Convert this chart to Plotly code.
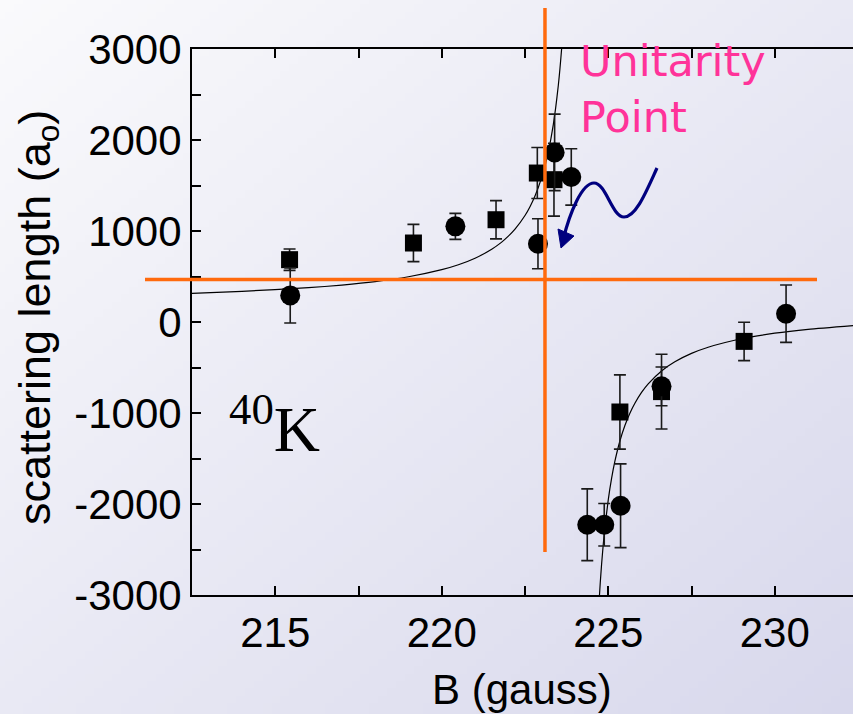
import zlib, struct, base64
import plotly.graph_objects as go

# ---------------- data ----------------
sq_B = [215.43, 219.15, 221.63, 222.87, 223.37, 225.35, 226.60, 229.08]
sq_a = [685, 868, 1124, 1637, 1564, -989, -765, -213]
sq_err = [118, 205, 210, 280, 400, 408, 410, 211]

ci_B = [215.45, 220.41, 222.89, 223.39, 223.89, 224.37, 224.88, 225.37, 226.60, 230.34]
ci_a = [292, 1051, 860, 1864, 1594, -2228, -2228, -2019, -707, 91]
ci_err = [303, 143, 275, 420, 310, 394, 233, 460, 213, 315]

fit_left_B = [212.5, 214, 216, 217, 218, 219, 220, 220.5, 221, 221.5, 221.8, 222, 222.2,
              222.5, 222.65, 222.8, 223.0, 223.1, 223.2, 223.28, 223.35, 223.42, 223.5,
              223.55, 223.6, 223.65]
fit_left_a = [315, 337, 377, 406, 444, 497, 575, 629, 701, 800, 878, 943, 1020,
              1170, 1267, 1384, 1587, 1715, 1870, 2018, 2170, 2350, 2599,
              2785, 3003, 3261]
fit_right_B = [224.72, 224.76, 224.8, 224.85, 224.9, 225.0, 225.1, 225.2, 225.35, 225.5,
               225.65, 225.8, 226.0, 226.2, 226.6, 227.0, 227.5, 228, 229, 230, 231, 232.35]
fit_right_a = [-3099, -2866, -2663, -2445, -2259, -1955, -1719, -1530, -1308, -1138,
               -1002, -893, -774, -680, -538, -437, -345, -277, -184, -123, -80, -39]

unitarity_B = 223.1
unitarity_a = 468

x_ticks = [215, 220, 225, 230]
y_ticks = [-3000, -2000, -1000, 0, 1000, 2000, 3000]

# ---------------- layout geometry ----------------
W, H = 853, 714
ML, MR, MT, MB = 192, 0, 49, 119
PW, PH = W - ML - MR, H - MT - MB


def px(x, y):
    """pixel position -> paper coordinates (for decorations only)"""
    return (x - ML) / PW, (H - MB - y) / PH


def gradient_png(w, h, c0, c1):
    rows = []
    for j in range(h):
        row = bytearray([0])
        for i in range(w):
            t = (i / (w - 1) + j / (h - 1)) / 2
            row += bytes(int(round(c0[k] + (c1[k] - c0[k]) * t)) for k in range(3))
        rows.append(bytes(row))
    raw = b"".join(rows)

    def chunk(tag, data):
        c = struct.pack(">I", len(data)) + tag + data
        return c + struct.pack(">I", zlib.crc32(tag + data) & 0xFFFFFFFF)

    png = (b"\x89PNG\r\n\x1a\n"
           + chunk(b"IHDR", struct.pack(">IIBBBBB", w, h, 8, 2, 0, 0, 0))
           + chunk(b"IDAT", zlib.compress(raw))
           + chunk(b"IEND", b""))
    return "data:image/png;base64," + base64.b64encode(png).decode()


bg = gradient_png(96, 96, (250, 250, 252), (216, 216, 236))

fig = go.Figure()

fig.add_trace(go.Scatter(x=fit_left_B, y=fit_left_a, mode="lines",
                         line=dict(color="black", width=1.2, shape="spline", smoothing=0.6),
                         hoverinfo="skip", showlegend=False))
fig.add_trace(go.Scatter(x=fit_right_B, y=fit_right_a, mode="lines",
                         line=dict(color="black", width=1.2, shape="spline", smoothing=0.6),
                         hoverinfo="skip", showlegend=False))

err_style = dict(type="data", visible=True, color="#1a1a1a", thickness=1.6, width=6)
fig.add_trace(go.Scatter(x=sq_B, y=sq_a, mode="markers",
                         marker=dict(symbol="square", size=17, color="black"),
                         error_y=dict(array=sq_err, **err_style), showlegend=False))
fig.add_trace(go.Scatter(x=ci_B, y=ci_a, mode="markers",
                         marker=dict(symbol="circle", size=20, color="black"),
                         error_y=dict(array=ci_err, **err_style), showlegend=False))

orange = "#ff6a0d"
shapes = [
    dict(type="line", xref="x", yref="paper", x0=unitarity_B, x1=unitarity_B,
         y0=px(0, 552)[1], y1=px(0, 8)[1], line=dict(color=orange, width=3.5), layer="above"),
    dict(type="line", xref="paper", yref="y", y0=unitarity_a, y1=unitarity_a,
         x0=px(145, 0)[0], x1=px(817, 0)[0], line=dict(color=orange, width=3.5), layer="above"),
]

# wavy arrow (decoration)
S, c1, c2, T = (657, 168), (646, 192), (636, 217), (624, 217)
d1, d2, P = (612, 217), (606, 183), (594, 183)
e1, e2, E = (582, 183), (570, 212), (563, 240)


def pp(p):
    x, y = px(*p)
    return f"{x:.5f},{y:.5f}"


path = (f"M{pp(S)} C{pp(c1)} {pp(c2)} {pp(T)} C{pp(d1)} {pp(d2)} {pp(P)} "
        f"C{pp(e1)} {pp(e2)} {pp(E)}")
shapes.append(dict(type="path", xref="paper", yref="paper", path=path,
                   line=dict(color="#00007f", width=3.2), layer="above"))
head = f"M{pp((561, 248))} L{pp((558, 229))} L{pp((574, 236))} Z"
shapes.append(dict(type="path", xref="paper", yref="paper", path=head,
                   fillcolor="#00007f", line=dict(color="#00007f", width=1), layer="above"))

sans = "Liberation Sans, Arial, sans-serif"
tick_font = dict(family=sans, size=42, color="black")

fig.update_layout(
    width=W, height=H,
    margin=dict(l=ML, r=MR, t=MT, b=MB, autoexpand=False),
    paper_bgcolor="#e9e9f3",
    plot_bgcolor="rgba(0,0,0,0)",
    shapes=shapes,
    images=[dict(source=bg, xref="paper", yref="paper", x=-ML / PW, y=1 + MT / PH,
                 sizex=W / PW, sizey=H / PH, sizing="stretch", layer="below",
                 xanchor="left", yanchor="top")],
    annotations=[
        dict(text="Unitarity<br>Point", xref="paper", yref="paper",
             x=px(578, 0)[0], y=px(0, 89)[1], xanchor="left", yanchor="middle",
             align="left", showarrow=False,
             font=dict(family="DejaVu Sans", size=43, color="#ff3399")),
        dict(text="<sup>40</sup>K", xref="paper", yref="paper",
             x=px(227, 0)[0], y=px(0, 424)[1], xanchor="left", yanchor="middle",
             showarrow=False,
             font=dict(family="Liberation Serif", size=64, color="black")),
        dict(text="scattering length (a<sub>o</sub>)", xref="paper", yref="paper",
             x=px(37, 0)[0], y=px(0, 318)[1], xanchor="center", yanchor="middle",
             textangle=-90, showarrow=False, font=dict(family=sans, size=45, color="black")),
        dict(text="B (gauss)", xref="paper", yref="paper",
             x=px(522, 0)[0], y=px(0, 689)[1], xanchor="center", yanchor="middle",
             showarrow=False, font=dict(family=sans, size=42, color="black")),
    ],
    xaxis=dict(range=[212.5, 232.35], tickvals=x_ticks, ticktext=[str(v) for v in x_ticks],
               ticks="inside", ticklen=9, tickwidth=2, tickcolor="black",
               minor=dict(dtick=2.5, tick0=215, ticks="inside", ticklen=9, tickwidth=2,
                          tickcolor="black", showgrid=False),
               showline=True, linewidth=2, linecolor="black", mirror="ticks",
               showgrid=False, zeroline=False, tickfont=tick_font),
    yaxis=dict(range=[-3000, 3000], tickvals=y_ticks, ticktext=[str(v) for v in y_ticks],
               ticks="inside", ticklen=9, tickwidth=2, tickcolor="black",
               minor=dict(dtick=500, tick0=0, ticks="inside", ticklen=9, tickwidth=2,
                          tickcolor="black", showgrid=False),
               showline=True, linewidth=2, linecolor="black", mirror=False,
               showgrid=False, zeroline=False, tickfont=tick_font),
)

fig.write_html("out.html", config={"displayModeBar": False},
               post_script="document.body.style.margin='0px';document.body.style.overflow='hidden';")
